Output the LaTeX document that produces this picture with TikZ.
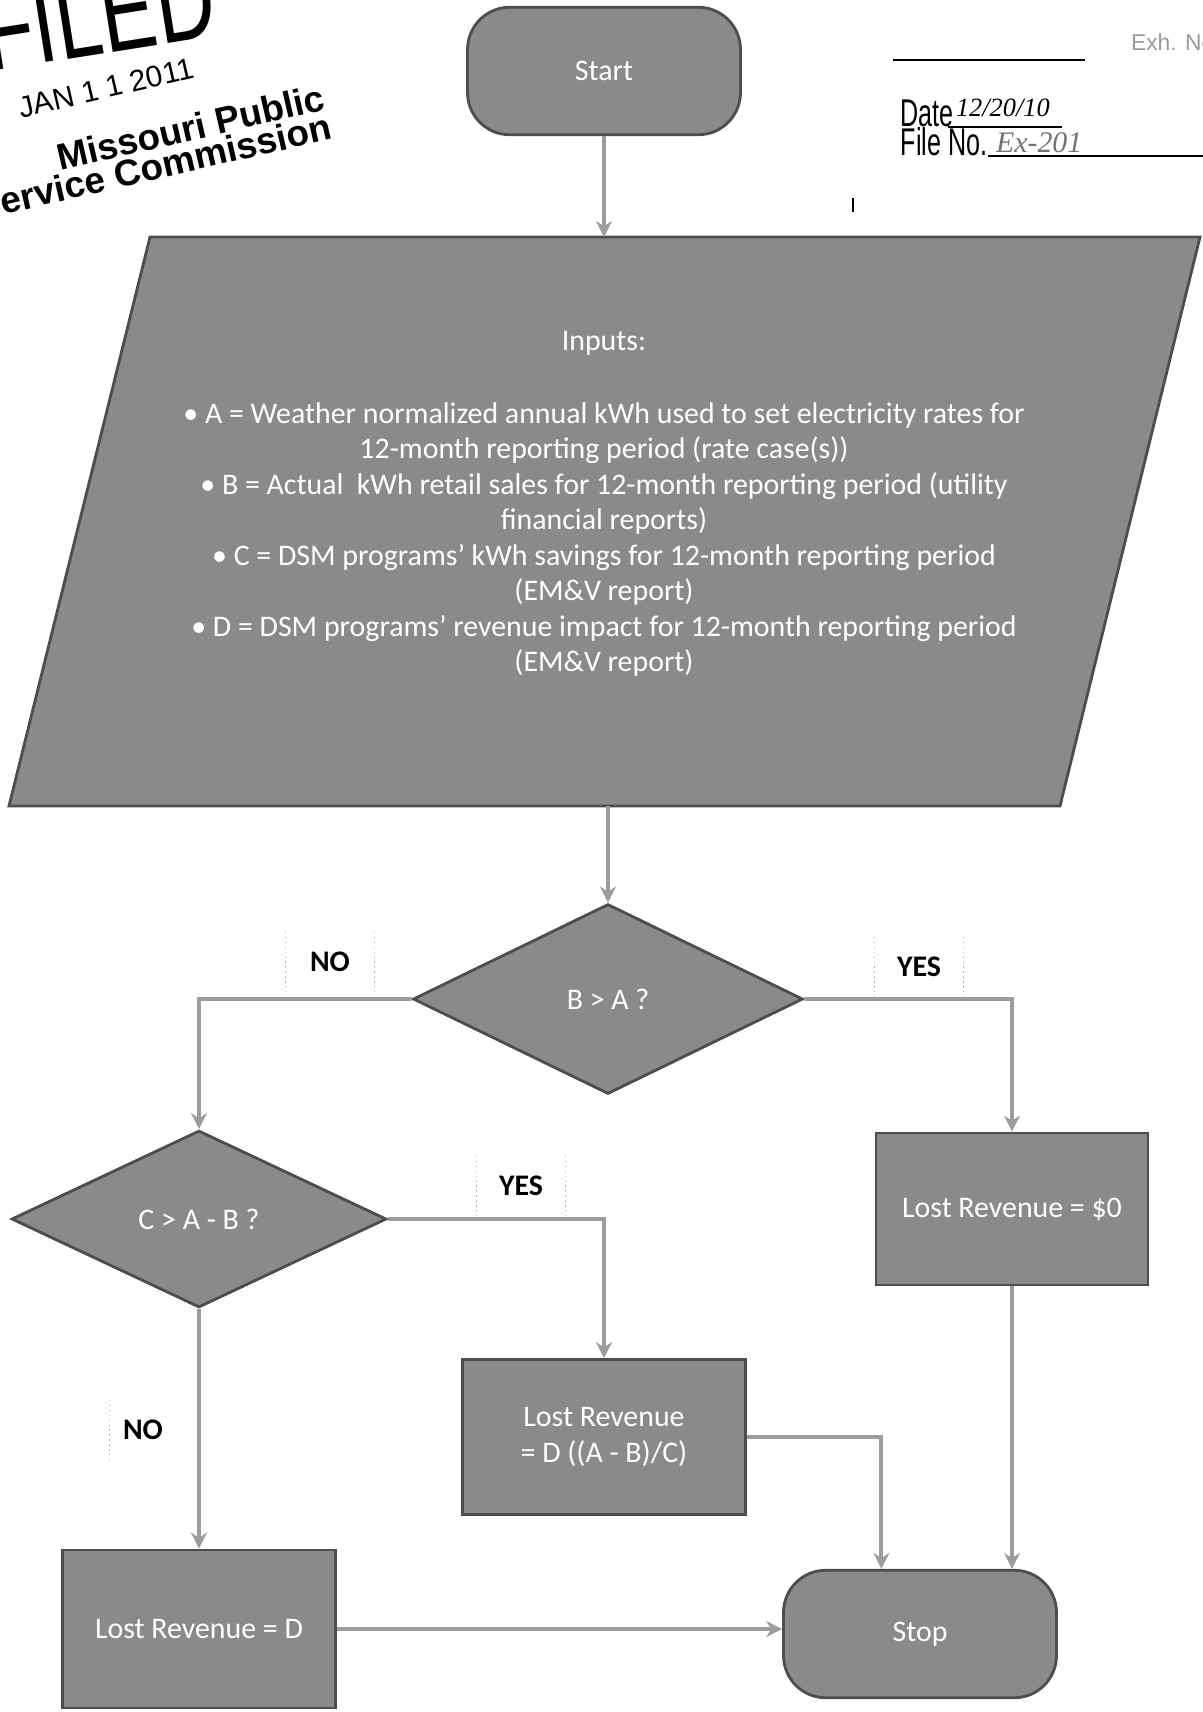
\documentclass[tikz,border=0pt]{standalone}
\usepackage{fontspec}
\setmainfont{Carlito}
\newfontfamily\stampfont{Liberation Sans}
\newfontfamily\handfont{Liberation Serif}
\usetikzlibrary{arrows.meta, positioning, shapes.geometric, calc}
\definecolor{cfill}{HTML}{8A8A8A}
\definecolor{cedge}{HTML}{4D4D4D}
\definecolor{cline}{HTML}{9C9C9C}
\definecolor{cdot}{HTML}{B4B4B4}
\tikzset{
  every picture/.style={line width=1.2pt},
  shapeline/.style={draw=cedge, fill=cfill, line width=1.6pt},
  term/.style={shapeline, rounded corners=24pt, text=white, font=\fontsize{17}{20}\selectfont, minimum width=5.46cm, minimum height=2.55cm},
  procbox/.style={shapeline, text=white, align=center, font=\fontsize{17}{21}\selectfont, minimum width=5.5cm, minimum height=3.1cm},
  decision/.style={shapeline, diamond, text=white, font=\fontsize{17}{20}\selectfont},
  intext/.style={text=white, align=center, font=\fontsize{17}{20.2}\selectfont},
  tag/.style={font=\bfseries\fontsize{17}{20}\selectfont, minimum width=1.74cm, minimum height=1.16cm},
  tagline/.style={draw=cdot, dotted, line width=0.8pt},
  flow/.style={-{Stealth[length=3.2mm, width=3.2mm]}, draw=cline, line width=2.2pt},
  stamp/.style={text=black, inner sep=0pt},
}

\begin{document}
\begin{tikzpicture}[x={(0.02cm,0)}, y={(0,-0.02cm)}]
  \useasboundingbox (0,0) rectangle (1203,1712);
  \clip (0,0) rectangle (1203,1712);
  % filing stamps
  \node[stamp, anchor=base west, rotate=9, yscale=1.4, font=\stampfont\fontsize{47}{47}\selectfont] (filed) at (-12,72) {FILED};
  \node[stamp, rotate=13, font=\stampfont\fontsize{17}{17}\selectfont] (fdate) at (106,88) {JAN 1 1 2011};
  \node[stamp, rotate=13, align=right, font=\stampfont\bfseries\fontsize{21}{17}\selectfont] (fpsc) at (150,152) {Missouri Public\\Service Commission};
  \draw[black, line width=1pt] (893,60) -- (1085,60);
  \node[stamp, anchor=base west, text=black!40, font=\stampfont\fontsize{13}{13}\selectfont] (exh) at (1130,50) {Exh. No.};
  \node[stamp, anchor=base west, xscale=0.65, font=\stampfont\fontsize{22}{22}\selectfont] (dlabel) at (900,126) {Date};
  \node[stamp, anchor=base west, font=\handfont\itshape\fontsize{15}{15}\selectfont] (dval) at (955,116) {12/20/10};
  \draw[black, line width=0.8pt] (948,127) -- (1062,127);
  \node[stamp, anchor=base west, xscale=0.65, font=\stampfont\fontsize{22}{22}\selectfont] (flabel) at (900,155) {File No.};
  \node[stamp, anchor=base west, text=black!55, font=\handfont\itshape\fontsize{17}{17}\selectfont] (fval) at (995,152) {Ex-201};
  \draw[black, line width=0.8pt] (988,156) -- (1203,156);
  \draw[black, line width=0.8pt] (853,198) -- (853,212);

  % flowchart
  \node[term] (start) at (604,71) {Start};
  \draw[shapeline] (150,237) -- (1200,237) -- (1060,806) -- (9,806) -- cycle;
  \coordinate (ptop) at (604,237);
  \coordinate (pbot) at (608,806);
  \node[intext] (inputs) at (604,504) {Inputs:\\[21pt]
    \textbullet\ A = Weather normalized annual kWh used to set electricity rates for\\
    12-month reporting period (rate case(s))\\
    \textbullet\ B = Actual~ kWh retail sales for 12-month reporting period (utility\\
    financial reports)\\
    \textbullet\ C = DSM programs' kWh savings for 12-month reporting period\\
    (EM\&V report)\\
    \textbullet\ D = DSM programs' revenue impact for 12-month reporting period\\
    (EM\&V report)};

  \node[decision, minimum width=7.8cm, minimum height=3.8cm] (ba) at (608,999) {B > A ?};
  \node[decision, minimum width=7.5cm, minimum height=3.54cm] (ca) at (199,1219) {C > A - B ?};
  \node[procbox, minimum width=5.44cm, minimum height=3.04cm] (zero) at (1012,1209) {Lost Revenue = \$0};
  \node[procbox, minimum width=5.66cm] (part) at (604,1437) {Lost Revenue\\= D ((A - B)/C)};
  \node[procbox, minimum width=5.46cm, minimum height=3.16cm] (full) at (199,1629) {Lost Revenue = D};
  \node[term] (stop) at (920,1634) {Stop};

  \node[tag] (no1) at (330,962) {NO};
  \node[tag] (yes1) at (919,967) {YES};
  \node[tag] (yes2) at (521,1186) {YES};
  \node[tag, minimum width=1.3cm] (no2) at (143,1430) {NO};
  \foreach \t in {no1, yes1, yes2}
    \draw[tagline] (\t.north west) -- (\t.south west) (\t.north east) -- (\t.south east);
  \draw[tagline] (no2.north west) -- (no2.south west);

  \coordinate (stopin) at ($(stop.north west)!0.36!(stop.north east)$);
  \draw[flow] (start) -- (start |- ptop);
  \draw[flow] (pbot) -- (ba.north);
  \draw[flow] (ba.west) -| (ca.north);
  \draw[flow] (ba.east) -| (zero.north);
  \draw[flow] (ca.east) -| (part.north);
  \draw[flow] (ca.south) -- (full.north);
  \draw[flow] (full.east) -- (full.east -| stop.west);
  \draw[flow] (part.east) -| (stopin);
  \draw[flow] (zero.south) -- (zero.south |- stop.north);
\end{tikzpicture}
\end{document}
